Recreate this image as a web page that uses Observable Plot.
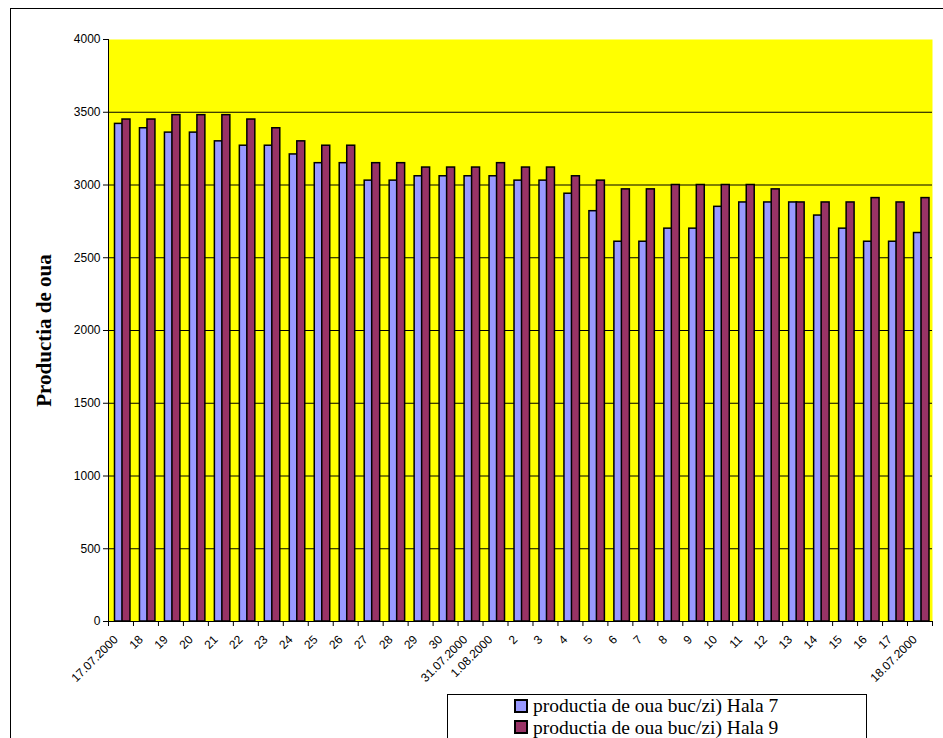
<!DOCTYPE html>
<html><head><meta charset="utf-8">
<script src="https://cdn.jsdelivr.net/npm/d3@7"></script>
<script src="https://cdn.jsdelivr.net/npm/@observablehq/plot@0.6"></script>
<style>
body{margin:0;background:#fff;}
#wrap{position:relative;width:943px;height:738px;overflow:hidden;background:#fff;}
#wrap svg{position:absolute;left:0;top:0;}
#border{position:absolute;left:10px;top:8px;width:1000px;height:1000px;border-left:1px solid #000;border-top:1px solid #000;}
#legend{position:absolute;left:447px;top:694px;width:418px;height:100px;border:1px solid #000;background:#fff;font-family:"Liberation Serif","Times New Roman",serif;font-size:19.5px;line-height:21.5px;color:#000;}
.item{position:absolute;left:85px;white-space:nowrap;line-height:21.5px;}
.sw{position:absolute;left:66px;width:10px;height:10px;border:2px solid #000;}
</style>
</head><body>
<div id="wrap"><div id="border"></div></div>
<script>
const categories = ["17.07.2000","18","19","20","21","22","23","24","25","26","27","28","29","30","31.07.2000","1.08.2000","2","3","4","5","6","7","8","9","10","11","12","13","14","15","16","17","18.07.2000"];
const hala7 = [3420,3390,3360,3360,3300,3270,3270,3210,3150,3150,3030,3030,3060,3060,3060,3060,3030,3030,2940,2820,2610,2610,2700,2700,2850,2880,2880,2880,2790,2700,2610,2610,2670];
const hala9 = [3450,3450,3480,3480,3480,3450,3390,3300,3270,3270,3150,3150,3120,3120,3120,3150,3120,3120,3060,3030,2970,2970,3000,3000,3000,3000,2970,2880,2880,2880,2910,2880,2910];
const seriesNames = ["productia de oua buc/zi) Hala 7","productia de oua buc/zi) Hala 9"];
const seriesColors = ["#9999ff","#993366"];
const yTicks = [0,500,1000,1500,2000,2500,3000,3500,4000];
const gridTicks = [500,1000,1500,2000,2500,3000,3500];

const data = categories.map((c,i)=>({cat:c, h7:hala7[i], h9:hala9[i]}));
const W = 943, mL = 108, mR = 11;
const bw = (W - mL - mR) / categories.length;

const chart = Plot.plot({
  width: W, height: 738,
  marginLeft: mL, marginRight: mR, marginTop: 39, marginBottom: 117,
  style: {fontFamily: "'Liberation Sans', Arial, sans-serif", fontSize: "12px", background: "transparent", overflow: "visible", color: "#000"},
  x: {type: "band", domain: categories, padding: 0, label: null, axis: null},
  y: {domain: [0, 4000], label: null, axis: null},
  marks: [
    Plot.frame({fill: "#ffff00", stroke: null}),
    Plot.gridY(gridTicks, {stroke: "#000", strokeOpacity: 1, strokeWidth: 1}),
    Plot.barY(data, {x: "cat", y: "h7", fill: seriesColors[0], stroke: "#000", strokeWidth: 1.5, insetLeft: 6.5, insetRight: 10.5}),
    Plot.barY(data, {x: "cat", y: "h9", fill: seriesColors[1], stroke: "#000", strokeWidth: 1.5, insetLeft: 14, insetRight: 3}),
    Plot.frame({anchor: "left", stroke: "#000"}),
    Plot.ruleY([0], {stroke: "#000"}),
    Plot.axisY(yTicks, {tickSize: 5, tickPadding: 3, label: null, fontSize: 12, tickFormat: d => String(d)}),
    Plot.axisX(categories, {text: null, tickSize: 5, dx: -bw/2, label: null}),
    Plot.axisX([categories[categories.length-1]], {text: null, tickSize: 5, dx: bw/2, label: null}),
    Plot.axisX(categories, {tickSize: 0, tickPadding: 16, dx: -5, tickRotate: -45, label: null, fontSize: 12}),
    Plot.text(["Productia de oua"], {frameAnchor: "left", textAnchor: "middle", dx: -64, rotate: -90, fontFamily: "'Liberation Serif','Times New Roman',serif", fontWeight: "bold", fontSize: 21, fill: "#000"})
  ]
});
const wrap = document.getElementById("wrap");
wrap.appendChild(chart);
const legend = document.createElement("div");
legend.id = "legend";
seriesNames.forEach((n,i)=>{
  const sw = document.createElement("div");
  sw.className = "sw"; sw.style.background = seriesColors[i];
  sw.style.top = (3.5 + i*21.5) + "px";
  legend.appendChild(sw);
  const it = document.createElement("div");
  it.className = "item";
  it.style.top = (0 + i*21.5) + "px";
  it.textContent = n;
  legend.appendChild(it);
});
wrap.appendChild(legend);
</script>
</body></html>
